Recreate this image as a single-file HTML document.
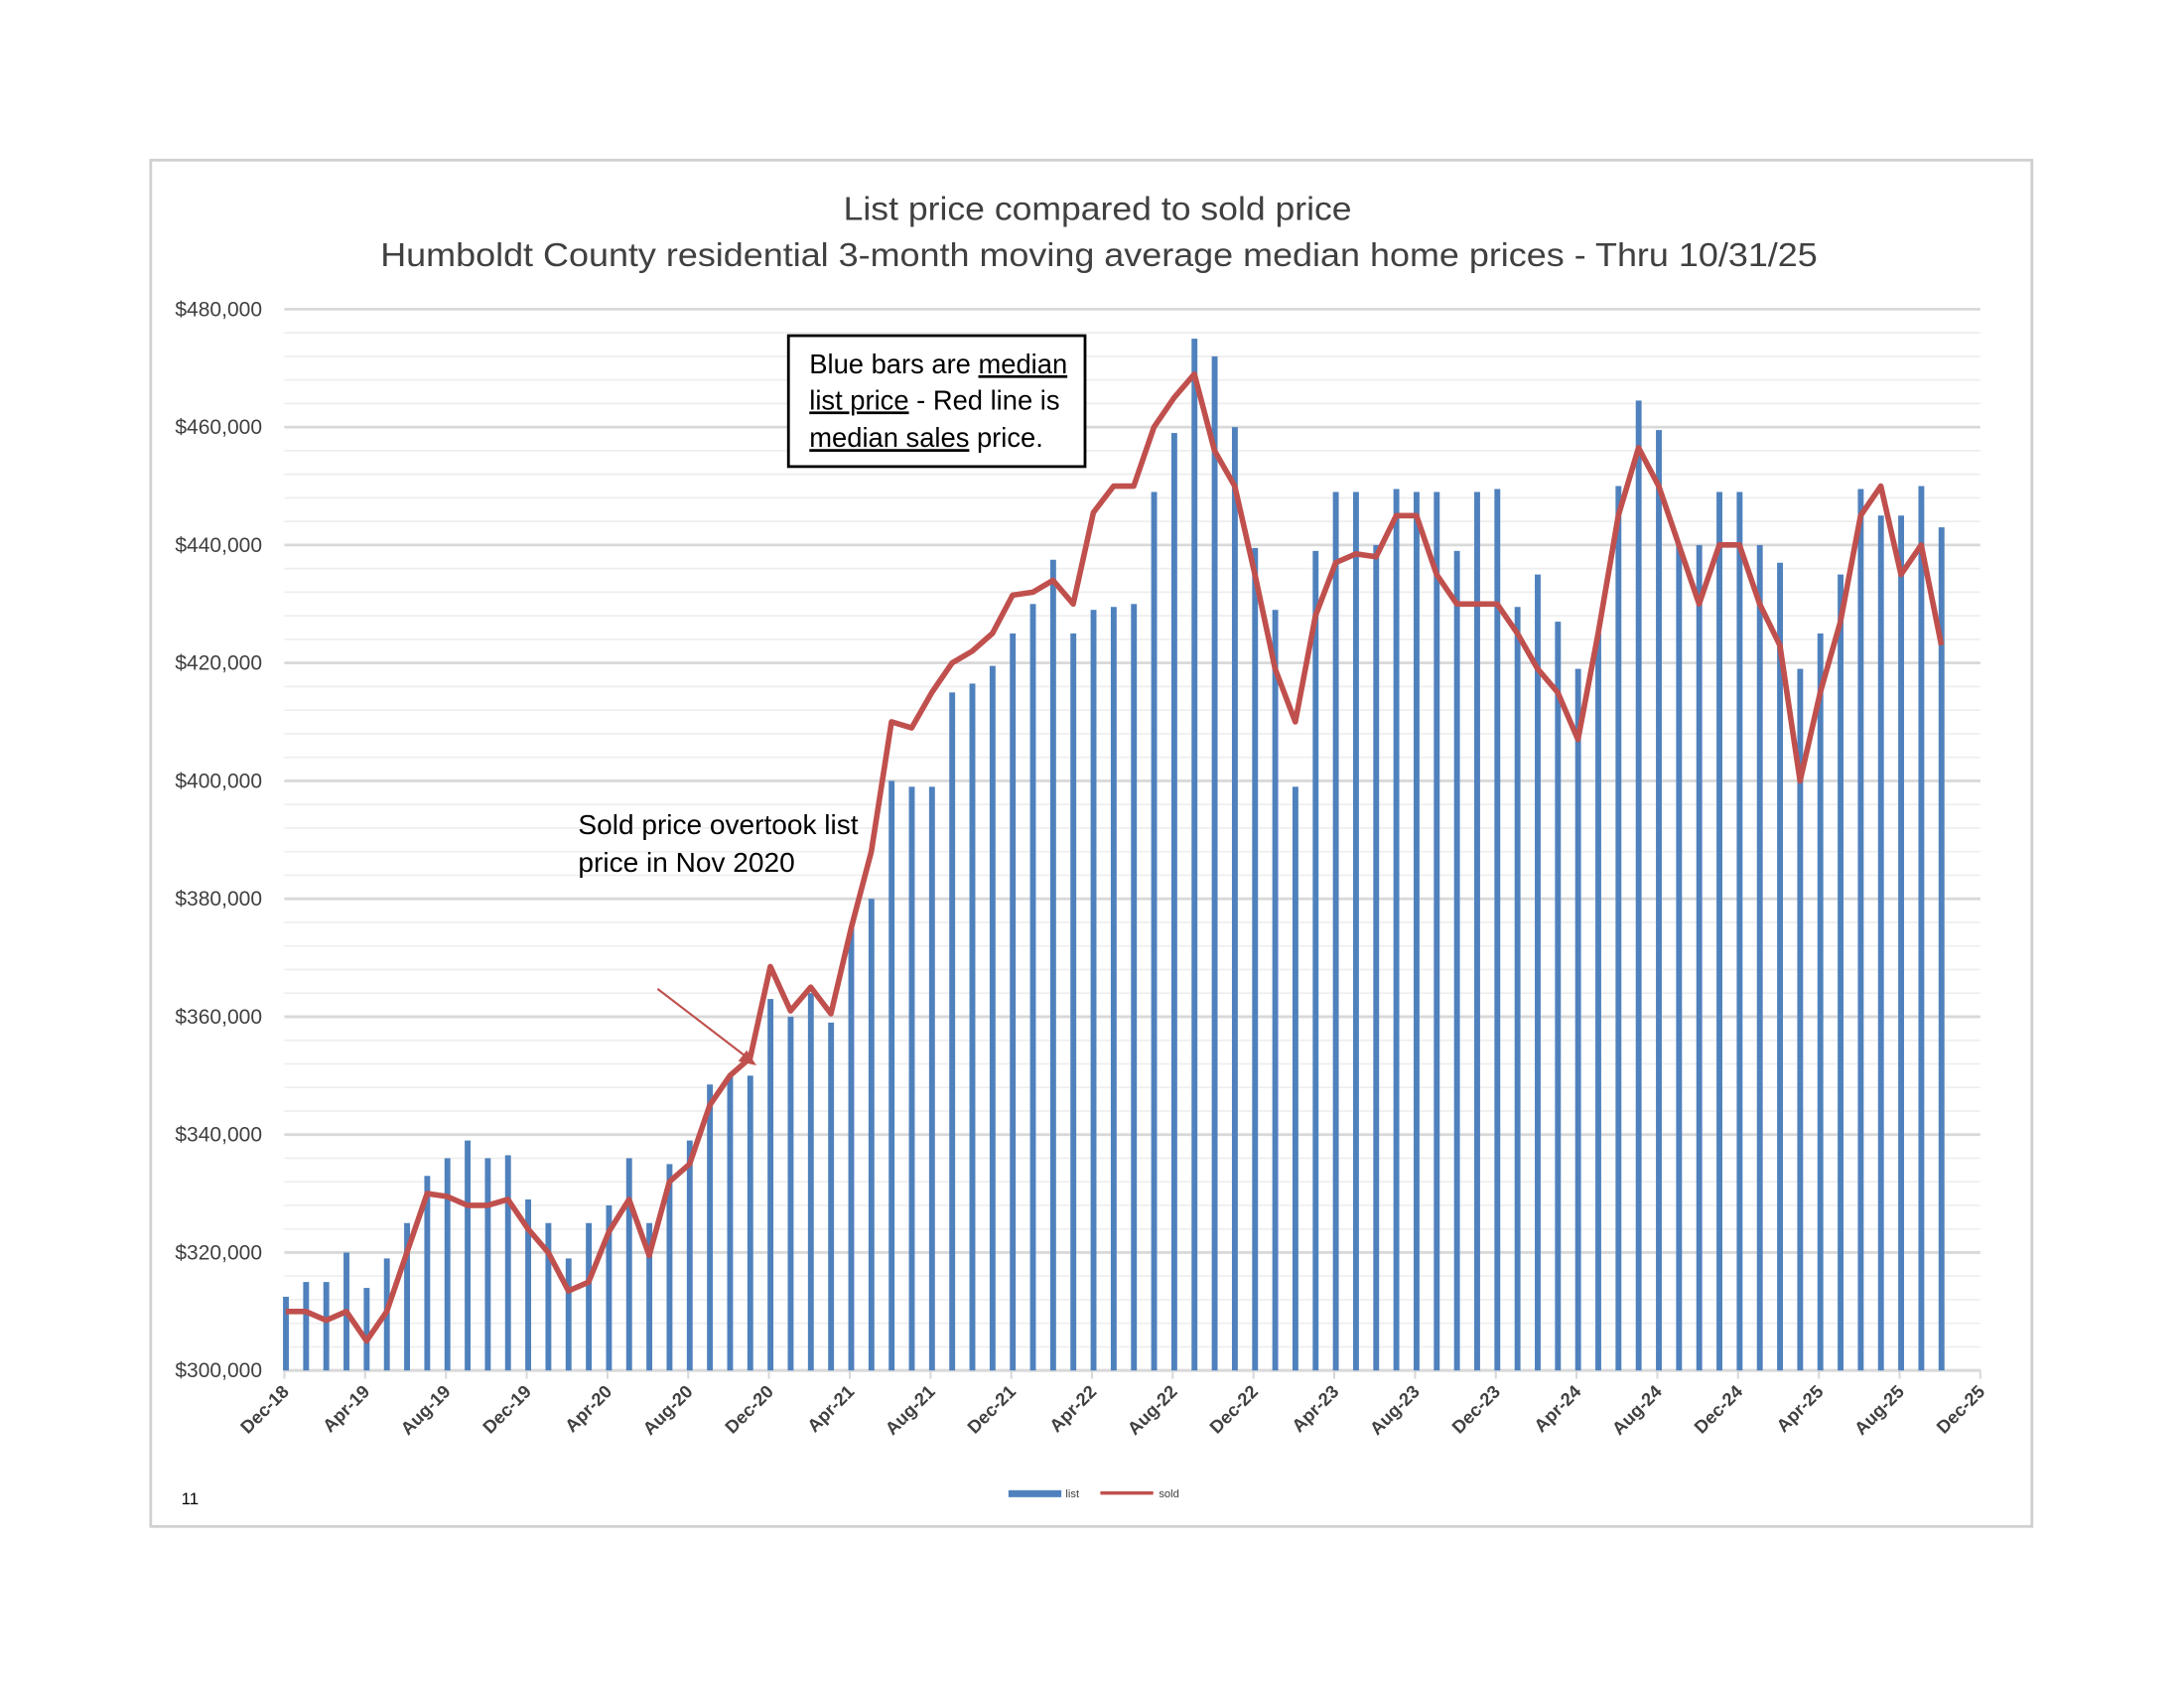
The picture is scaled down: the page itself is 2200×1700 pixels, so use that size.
<!DOCTYPE html>
<html><head><meta charset="utf-8"><style>
html,body{margin:0;padding:0;background:#fff;}
svg{display:block;}
text{font-family:"Liberation Sans",sans-serif;}
</style></head><body>
<svg id="c" width="2200" height="1700" viewBox="0 0 1568 1212" xmlns="http://www.w3.org/2000/svg">
<rect x="0" y="0" width="1568" height="1212" fill="#fff"/>
<rect x="108" y="115" width="1351" height="981" fill="#fff" stroke="#d0d0d0" stroke-width="2"/>
<g id="grid"></g>
<g id="bars"></g>
<polyline id="line" fill="none" stroke="#c0504d" stroke-width="4" stroke-linejoin="round"/>
<g id="ylab" font-size="15" fill="#404040" text-anchor="end"></g>
<g id="xlab" font-size="13" font-weight="bold" fill="#404040" text-anchor="end"></g>
<text x="788" y="158" font-size="24" fill="#404040" text-anchor="middle" textLength="365" lengthAdjust="spacingAndGlyphs">List price compared to sold price</text>
<text x="789" y="191" font-size="24" fill="#404040" text-anchor="middle" textLength="1032" lengthAdjust="spacingAndGlyphs">Humboldt County residential 3-month moving average median home prices - Thru 10/31/25</text>
<rect x="566" y="241" width="213" height="94" fill="#fff" stroke="#000" stroke-width="2"/>
<g font-size="19.5" fill="#000">
<text x="581" y="268">Blue bars are <tspan text-decoration="underline">median</tspan></text>
<text x="581" y="294"><tspan text-decoration="underline">list price</tspan> - Red line is</text>
<text x="581" y="321"><tspan text-decoration="underline">median sales</tspan> price.</text>
</g>
<g font-size="20" fill="#000">
<text x="415" y="599">Sold price overtook list</text>
<text x="415" y="626">price in Nov 2020</text>
</g>
<line x1="472" y1="710" x2="536" y2="759" stroke="#c0504d" stroke-width="1.5"/>
<polygon points="543,765 530,762 536,754" fill="#c0504d"/>
<rect x="724" y="1070" width="38" height="5" fill="#4f81bd"/>
<text x="765" y="1075" font-size="8" fill="#404040">list</text>
<line x1="790" y1="1072" x2="828" y2="1072" stroke="#c0504d" stroke-width="2.5"/>
<text x="832" y="1075" font-size="8" fill="#404040">sold</text>
<text x="130" y="1080" font-size="12" fill="#000">11</text>
</svg>
<script>
var NS="http://www.w3.org/2000/svg";
function el(t,a,p,txt){var e=document.createElementNS(NS,t);for(var k in a)e.setAttribute(k,a[k]);if(txt!==undefined)e.textContent=txt;document.getElementById(p).appendChild(e);return e;}
function Y(v){return 984-(v-300)*762/180;}
var g="grid";
for(var v=300;v<=480;v+=4){var maj=(v%20==0);
 el("line",{x1:204,x2:1422,y1:Y(v),y2:Y(v),stroke:maj?"#d9d9d9":"#eeeeee","stroke-width":maj?2:1.2},g);}
for(var v=300;v<=480;v+=20){el("text",{x:188,y:Y(v)+5},"ylab","$"+v+",000");}
el("line",{x1:204,x2:1422,y1:984,y2:984,stroke:"#d9d9d9","stroke-width":2},g);
var list=[312.5,315,315,320,314,319,325,333,336,339,336,336.5,329,325,319,325,328,336,325,335,339,348.5,350,350,363,360,364,359,375,380,400,399,399,415,416.5,419.5,425,430,437.5,425,429,429.5,430,449,459,475,472,460,439.5,429,399,439,449,449,440,449.5,449,449,439,449,449.5,429.5,435,427,419,425,450,464.5,459.5,440,440,449,449,440,437,419,425,435,449.5,445,445,450,443];
var sold=[310,310,308.5,310,305,310,320,330,329.5,328,328,329,324,320,313.5,315,323.5,329,319.5,332,335,345,350,353,368.5,361,365,360.5,375,388,410,409,415,420,422,425,431.5,432,434,430,445.5,450,450,460,465,469,456,450,435,419,410,428,437,438.5,438,445,445,435,430,430,430,425,419,415,407,425,445,456.5,450,440,430,440,440,430,423,400,415,427,445,450,435,440,423];
var step=1218/84,pts=[];
for(var i=0;i<list.length;i++){var x=204+step*i+1;
 el("rect",{x:x-2,y:Y(list[i]),width:4.2,height:984-Y(list[i]),fill:"#4f81bd"},"bars");
 pts.push(x.toFixed(1)+","+Y(sold[i]).toFixed(1));}
document.getElementById("line").setAttribute("points",pts.join(" "));
var mons=["Dec","Apr","Aug"];
for(var j=0;j<=21;j++){var x=204+step*4*j;var m=mons[j%3];var y=18+Math.floor((j+2)/3);
 el("line",{x1:x,x2:x,y1:984,y2:990,stroke:"#d9d9d9","stroke-width":1.5},g);
 el("text",{x:x+4,y:1000,transform:"rotate(-45 "+(x+4)+" 1000)"},"xlab",m+"-"+y);}
</script>
</body></html>
